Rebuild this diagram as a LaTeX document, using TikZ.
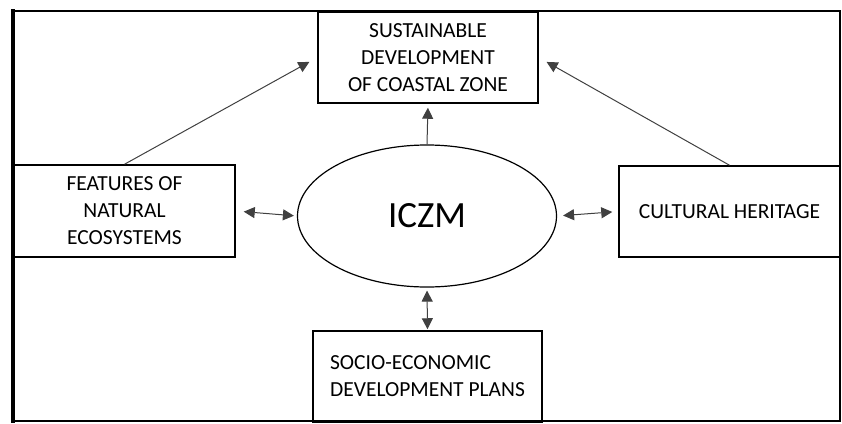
\documentclass[tikz,border=0pt]{standalone}
\usepackage{fontspec}
\setmainfont{Carlito}
\usetikzlibrary{arrows.meta,shapes.geometric}

\begin{document}
\begin{tikzpicture}
[x=1pt,y=-1pt
,box/.style={draw,line width=1.5pt,align=center,inner sep=0pt,font=\fontsize{21.5}{27}\selectfont}
,iczm/.style={ellipse,draw,line width=1.2pt,minimum width=259pt,minimum height=142pt,font=\fontsize{37}{40}\selectfont}
,ce/.style={draw=black!75,line width=1pt,arrows={-Triangle[length=11pt,width=11pt]}}
,de/.style={ce,arrows={Triangle[length=11pt,width=11pt]-Triangle[length=11pt,width=11pt]}}]
\useasboundingbox (0,0) rectangle (842,423);
% frame
\draw[line width=2pt] (13,11) -- (840,11) -- (840,421) -- (13,421);
\draw[line width=4pt] (13,9) -- (13,423);
\node[iczm] (c) at (427,216) {ICZM};
\node[box,minimum width=220pt,minimum height=91pt] (t) at (428,57.5) {SUSTAINABLE\\DEVELOPMENT\\OF COASTAL ZONE};
\node[box,minimum width=221pt,minimum height=92pt] (l) at (124.5,211) {FEATURES OF\\NATURAL\\ECOSYSTEMS};
\node[box,minimum width=221pt,minimum height=91pt] (r) at (729.5,211.5) {CULTURAL HERITAGE};
\node[box,minimum width=229pt,minimum height=91pt,align=left] (b) at (427.5,376.5) {SOCIO-ECONOMIC\\DEVELOPMENT PLANS};
\draw[ce,shorten >=4pt] (c.north) -- (t.south);
\draw[ce,shorten >=9pt] (l.north) -- (t.west);
\draw[ce,shorten >=9pt] (r.north) -- (t.east);
\draw[de,shorten <=8pt,shorten >=3pt] (l.east) -- (c.west);
\draw[de,shorten <=6pt,shorten >=6pt] (c.east) -- (r.west);
\draw[de,shorten <=3pt,shorten >=1pt] (c.south) -- (b.north);
\end{tikzpicture}
\end{document}
